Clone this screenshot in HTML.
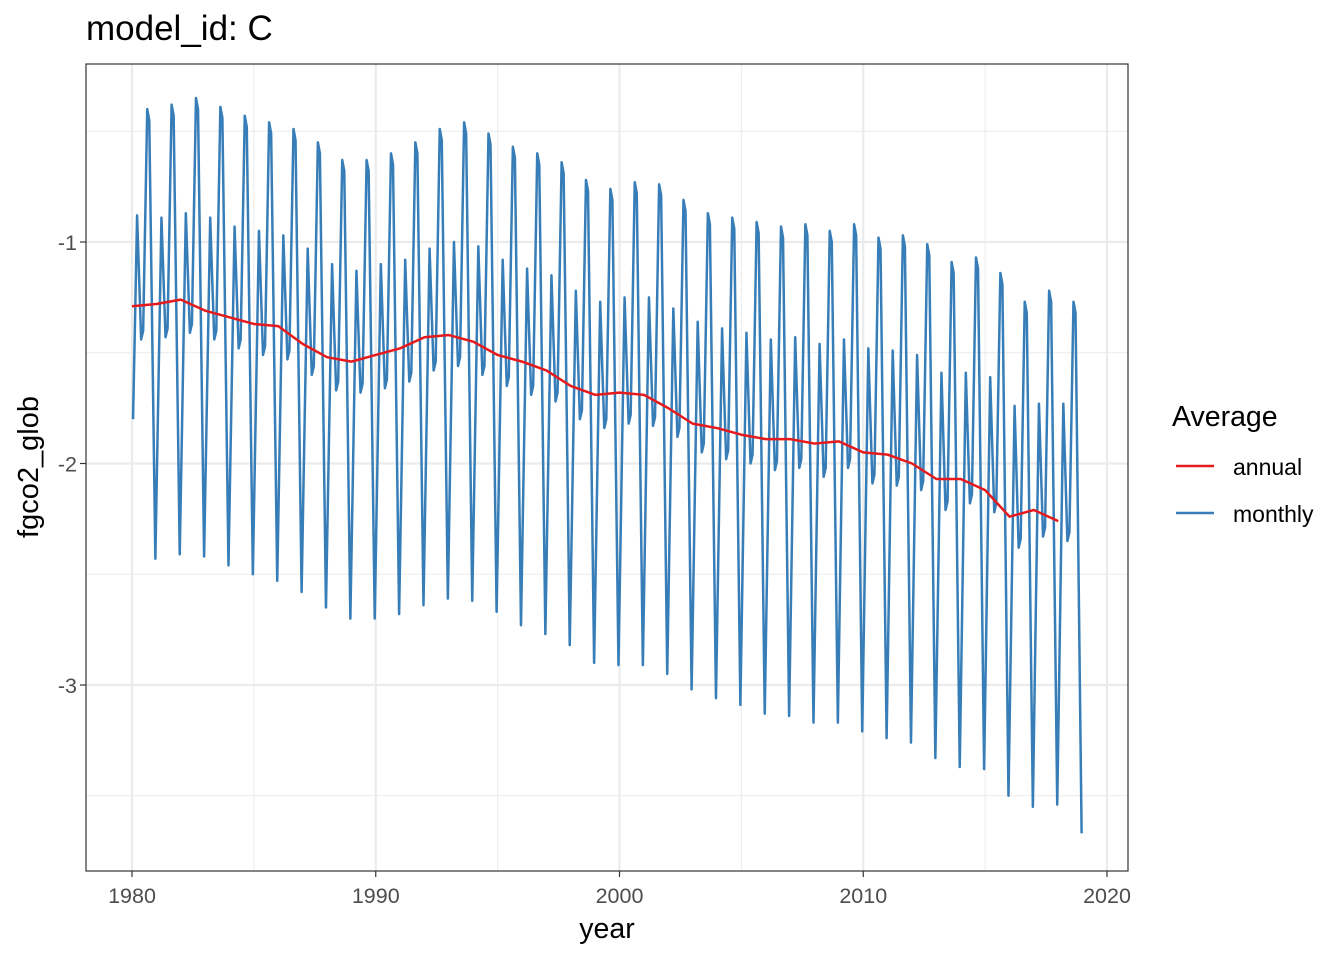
<!DOCTYPE html>
<html><head><meta charset="utf-8"><style>
body{margin:0;background:#fff;}
svg text{font-family:"Liberation Sans",Arial,sans-serif;}
</style></head><body>
<svg id="chart" width="1344" height="960" xmlns="http://www.w3.org/2000/svg">
<rect width="1344" height="960" fill="#fff"/>
<text x="86" y="40" font-size="35" fill="#000">model_id: C</text>
<g id="grid"></g>
<g id="series"></g>
<rect x="86" y="64" width="1042" height="807" fill="none" stroke="#333" stroke-width="1.2"/>
<g id="axes"></g>
<text x="607" y="938" font-size="28.5" text-anchor="middle" fill="#000">year</text>
<text transform="translate(38,467) rotate(-90)" font-size="29" text-anchor="middle" fill="#000">fgco2_glob</text>
<g>
<text x="1172" y="426" font-size="28.5" fill="#000">Average</text>
<line x1="1176" y1="466" x2="1214" y2="466" stroke="#e41a1c" stroke-width="2.5"/>
<text x="1233" y="475" font-size="23" fill="#000">annual</text>
<line x1="1176" y1="513" x2="1214" y2="513" stroke="#377eb8" stroke-width="2.5"/>
<text x="1233" y="522" font-size="23" fill="#000">monthly</text>
</g>
</svg>
<script>
const years = [1980,1981,1982,1983,1984,1985,1986,1987,1988,1989,1990,1991,1992,1993,1994,1995,1996,1997,1998,1999,2000,2001,2002,2003,2004,2005,2006,2007,2008,2009,2010,2011,2012,2013,2014,2015,2016,2017,2018];
const annualValues = [-1.29,-1.28,-1.26,-1.31,-1.34,-1.37,-1.38,-1.46,-1.52,-1.54,-1.51,-1.48,-1.43,-1.42,-1.45,-1.51,-1.54,-1.58,-1.65,-1.69,-1.68,-1.69,-1.75,-1.82,-1.84,-1.87,-1.89,-1.89,-1.91,-1.90,-1.95,-1.96,-2.00,-2.07,-2.07,-2.12,-2.24,-2.21,-2.26];
const monthlyValues = [
-1.80,-1.35,-0.88,-1.16,-1.44,-1.40,-0.90,-0.40,-0.45,-1.11,-1.77,-2.43,
-1.92,-1.40,-0.89,-1.16,-1.43,-1.39,-0.89,-0.38,-0.43,-1.09,-1.75,-2.41,
-1.90,-1.38,-0.87,-1.14,-1.41,-1.37,-0.86,-0.35,-0.40,-1.07,-1.75,-2.42,
-1.91,-1.40,-0.89,-1.17,-1.44,-1.40,-0.90,-0.39,-0.44,-1.11,-1.79,-2.46,
-1.95,-1.44,-0.93,-1.21,-1.48,-1.44,-0.94,-0.43,-0.48,-1.15,-1.83,-2.50,
-1.98,-1.47,-0.95,-1.23,-1.51,-1.47,-0.97,-0.46,-0.51,-1.18,-1.86,-2.53,
-2.01,-1.49,-0.97,-1.25,-1.53,-1.49,-0.99,-0.49,-0.54,-1.22,-1.90,-2.58,
-2.06,-1.55,-1.03,-1.32,-1.60,-1.56,-1.06,-0.55,-0.60,-1.28,-1.97,-2.65,
-2.13,-1.62,-1.10,-1.39,-1.67,-1.63,-1.13,-0.63,-0.68,-1.35,-2.03,-2.70,
-2.18,-1.65,-1.13,-1.41,-1.68,-1.64,-1.14,-0.63,-0.68,-1.35,-2.03,-2.70,
-2.17,-1.63,-1.10,-1.38,-1.66,-1.62,-1.11,-0.60,-0.65,-1.33,-2.00,-2.68,
-2.15,-1.61,-1.08,-1.36,-1.63,-1.59,-1.07,-0.55,-0.60,-1.28,-1.96,-2.64,
-2.10,-1.57,-1.03,-1.31,-1.58,-1.54,-1.02,-0.49,-0.54,-1.23,-1.92,-2.61,
-2.07,-1.54,-1.00,-1.28,-1.56,-1.52,-0.99,-0.46,-0.51,-1.21,-1.92,-2.62,
-2.09,-1.55,-1.02,-1.31,-1.60,-1.56,-1.04,-0.51,-0.56,-1.26,-1.97,-2.67,
-2.14,-1.61,-1.08,-1.37,-1.65,-1.61,-1.09,-0.57,-0.62,-1.32,-2.03,-2.73,
-2.19,-1.66,-1.12,-1.41,-1.69,-1.65,-1.13,-0.60,-0.65,-1.36,-2.06,-2.77,
-2.23,-1.69,-1.15,-1.44,-1.72,-1.68,-1.16,-0.64,-0.69,-1.40,-2.11,-2.82,
-2.29,-1.75,-1.22,-1.51,-1.80,-1.76,-1.24,-0.72,-0.77,-1.48,-2.19,-2.90,
-2.36,-1.81,-1.27,-1.56,-1.84,-1.80,-1.28,-0.76,-0.81,-1.51,-2.21,-2.91,
-2.36,-1.80,-1.25,-1.54,-1.82,-1.78,-1.26,-0.73,-0.78,-1.49,-2.20,-2.91,
-2.36,-1.80,-1.25,-1.54,-1.83,-1.79,-1.27,-0.74,-0.79,-1.51,-2.23,-2.95,
-2.40,-1.85,-1.30,-1.59,-1.88,-1.84,-1.33,-0.81,-0.86,-1.58,-2.30,-3.02,
-2.47,-1.91,-1.36,-1.66,-1.95,-1.91,-1.39,-0.87,-0.92,-1.63,-2.35,-3.06,
-2.50,-1.95,-1.39,-1.69,-1.98,-1.94,-1.42,-0.89,-0.94,-1.66,-2.37,-3.09,
-2.53,-1.97,-1.41,-1.71,-2.00,-1.96,-1.44,-0.91,-0.96,-1.68,-2.41,-3.13,
-2.57,-2.00,-1.44,-1.74,-2.03,-1.99,-1.46,-0.93,-0.98,-1.70,-2.42,-3.14,
-2.57,-2.00,-1.43,-1.73,-2.02,-1.98,-1.45,-0.92,-0.97,-1.70,-2.44,-3.17,
-2.60,-2.03,-1.46,-1.76,-2.06,-2.02,-1.49,-0.95,-1.00,-1.72,-2.45,-3.17,
-2.59,-2.02,-1.44,-1.73,-2.02,-1.98,-1.45,-0.92,-0.97,-1.72,-2.46,-3.21,
-2.63,-2.06,-1.48,-1.79,-2.09,-2.05,-1.52,-0.98,-1.03,-1.77,-2.50,-3.24,
-2.66,-2.07,-1.49,-1.80,-2.10,-2.06,-1.52,-0.97,-1.02,-1.77,-2.51,-3.26,
-2.68,-2.09,-1.51,-1.82,-2.12,-2.08,-1.55,-1.01,-1.06,-1.82,-2.57,-3.33,
-2.75,-2.17,-1.59,-1.90,-2.21,-2.17,-1.63,-1.09,-1.14,-1.88,-2.63,-3.37,
-2.78,-2.18,-1.59,-1.89,-2.18,-2.14,-1.61,-1.07,-1.12,-1.87,-2.63,-3.38,
-2.79,-2.20,-1.61,-1.92,-2.22,-2.18,-1.66,-1.14,-1.19,-1.96,-2.73,-3.50,
-2.91,-2.33,-1.74,-2.06,-2.38,-2.34,-1.81,-1.27,-1.32,-2.06,-2.81,-3.55,
-2.94,-2.34,-1.73,-2.03,-2.33,-2.29,-1.76,-1.22,-1.27,-2.03,-2.78,-3.54,
-2.94,-2.33,-1.73,-2.04,-2.35,-2.31,-1.79,-1.27,-1.32,-2.10,-2.89,-3.67];
const xTicks = [1980,1990,2000,2010,2020];
const xTickLabels = ["1980","1990","2000","2010","2020"];
const xMinor = [1985,1995,2005,2015];
const yTicks = [-1,-2,-3];
const yTickLabels = ["-1","-2","-3"];
const yMinor = [-0.5,-1.5,-2.5,-3.5];

const NS = "http://www.w3.org/2000/svg";
function xs(t){ return 132 + (t - 1980) * 24.375; }
function ys(v){ return 242 + (-1 - v) * 221.5; }
function mk(tag, attrs, parent){ const e = document.createElementNS(NS, tag); for (const k in attrs) e.setAttribute(k, attrs[k]); parent.appendChild(e); return e; }
const grid = document.getElementById('grid');
const axes = document.getElementById('axes');
const series = document.getElementById('series');

yMinor.forEach(v => {
  const l = mk('line', {x1:86, x2:1128, y1:ys(v), y2:ys(v), stroke:'#ebebeb', 'stroke-width':1}, grid);
  
  
});
xMinor.forEach(t => {
  const l = mk('line', {x1:xs(t), x2:xs(t), y1:64, y2:871, stroke:'#ebebeb', 'stroke-width':1}, grid);
  
  
});
yTicks.forEach((v, i) => {
  const l = mk('line', {x1:86, x2:1128, y1:ys(v), y2:ys(v), stroke:'#ebebeb', 'stroke-width':2.2}, grid);
  
  
  const tk = mk('line', {x1:80, x2:86, y1:ys(v), y2:ys(v), stroke:'#333', 'stroke-width':1.2}, axes);
  
  
  const tx = mk('text', {x:77, y:ys(v)+8, 'font-size':21.5, 'text-anchor':'end', fill:'#4d4d4d'}, axes);
  tx.textContent = yTickLabels[i];
  
  
});
xTicks.forEach((t, i) => {
  const l = mk('line', {x1:xs(t), x2:xs(t), y1:64, y2:871, stroke:'#ebebeb', 'stroke-width':2.2}, grid);
  
  
  const tk = mk('line', {x1:xs(t), x2:xs(t), y1:871, y2:877, stroke:'#333', 'stroke-width':1.2}, axes);
  
  
  const tx = mk('text', {x:xs(t), y:903, 'font-size':21.5, 'text-anchor':'middle', fill:'#4d4d4d'}, axes);
  tx.textContent = xTickLabels[i];
  
  
});

let mp = '';
monthlyValues.forEach((v, i) => {
  const t = years[0] + (i + 0.5) / 12;
  mp += (i ? 'L' : 'M') + xs(t).toFixed(2) + ',' + ys(v).toFixed(2);
});
const ml = mk('path', {d:mp, fill:'none', stroke:'#377eb8', 'stroke-width':2.5, 'stroke-linejoin':'round'}, series);



let ap = '';
annualValues.forEach((v, i) => {
  ap += (i ? 'L' : 'M') + xs(years[i]).toFixed(2) + ',' + ys(v).toFixed(2);
});
const al = mk('path', {d:ap, fill:'none', stroke:'#e41a1c', 'stroke-width':2.5, 'stroke-linejoin':'round'}, series);


</script>
</body></html>
